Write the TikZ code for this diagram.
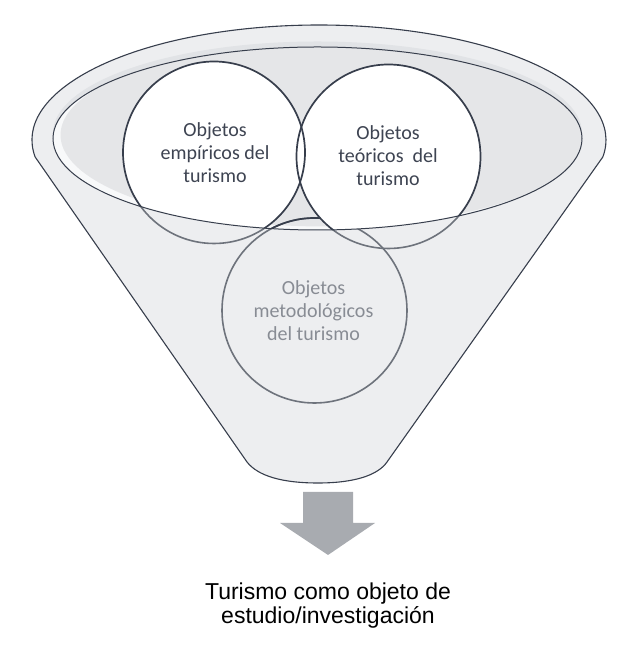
\documentclass[tikz,border=0pt]{standalone}
\usepackage{fontspec}
\setmainfont{Carlito}
\newfontfamily\arialf{Liberation Sans}
\definecolor{bodyc}{HTML}{EDEEF0}
\definecolor{bandc}{HTML}{E1E3E6}
\definecolor{innerc}{HTML}{E5E6E8}
\definecolor{crescentc}{HTML}{F8F9FA}
\definecolor{darkline}{HTML}{373E4C}
\definecolor{grayline}{HTML}{6E737C}
\definecolor{darktext}{HTML}{3E4452}
\definecolor{graytext}{HTML}{888C94}
\definecolor{arrowgray}{HTML}{A8ABB0}
\tikzset{
  ctext/.style={align=center, font=\fontsize{20}{23}\selectfont, text=darktext},
  gtext/.style={align=center, font=\fontsize{20}{23}\selectfont, text=graytext},
  rtext/.style={anchor=base, font=\arialf\fontsize{23}{25}\selectfont, text=black},
  circdark/.style={draw=darkline, line width=1.7pt},
  circgray/.style={draw=grayline, line width=1.6pt},
  outline/.style={draw=darkline, line width=1.1pt}
}
\begin{document}
\begin{tikzpicture}[x=1pt,y=1pt]
\useasboundingbox (0,0) rectangle (630,650);
% funnel body
\fill[bodyc] (35.15,493) arc[start angle=188.5, end angle=-8.5, x radius=287, y radius=115]
  -- (387,188) .. controls (378,175) and (355,167) .. (318,167)
  .. controls (282,167) and (258,174) .. (247,188) -- cycle;
% darker band at top of rim
\begin{scope}
  \clip (319,510) ellipse[x radius=287, y radius=115];
  \fill[bandc] (317.5,517) ellipse[x radius=264.5, y radius=91.5];
\end{scope}
% inner opening
\fill[crescentc] (317.5,511.5) ellipse[x radius=264.5, y radius=91.5];
\begin{scope}
  \clip (317.5,511.5) ellipse[x radius=264.5, y radius=91.5];
  \fill[innerc] (325,515) ellipse[x radius=264.5, y radius=91.5];
\end{scope}
% circle 3 (behind the wall)
\draw[circgray] (314.5,339.5) circle[radius=92.5];
\begin{scope}
  \clip (317.5,511.5) ellipse[x radius=264.5, y radius=91.5];
  \draw[circdark] (314.5,339.5) circle[radius=92.5];
  \fill[white] (214,497.5) circle[radius=91];
  \fill[white] (388.5,493.5) circle[radius=92];
  \draw[circdark] (214,497.5) circle[radius=91];
  \draw[circdark] (388.5,493.5) circle[radius=92];
\end{scope}
\begin{scope}
  \clip (53,511.5) arc[start angle=180, end angle=360, x radius=264.5, y radius=91.5]
    -- (640,511.5) -- (640,0) -- (0,0) -- (0,511.5) -- cycle;
  \draw[circgray] (214,497.5) circle[radius=91];
  \draw[circgray] (388.5,493.5) circle[radius=92];
\end{scope}
% outlines
\draw[outline, line width=1pt] (317.5,511.5) ellipse[x radius=264.5, y radius=91.5];
\draw[outline] (35.15,493) arc[start angle=188.5, end angle=-8.5, x radius=287, y radius=115]
  -- (387,188) .. controls (378,175) and (355,167) .. (318,167)
  .. controls (282,167) and (258,174) .. (247,188) -- cycle;
% texts
\node[ctext] (emp) at (215,497) {Objetos\\empíricos del\\turismo};
\node[ctext] (teo) at (388,494) {Objetos\\teóricos\hspace{0.45em}del\\turismo};
\node[gtext] (met) at (313.5,339) {Objetos\\metodológicos\\del turismo};
% arrow
\fill[arrowgray] (303,158) -- (353,158) -- (353,127) -- (375,127) -- (328,95)
  -- (280,127) -- (303,127) -- cycle;
% result text
\node[rtext] (res1) at (328,50) {Turismo como objeto de};
\node[rtext] (res2) at (328,27) {estudio/investigación};
\end{tikzpicture}
\end{document}
